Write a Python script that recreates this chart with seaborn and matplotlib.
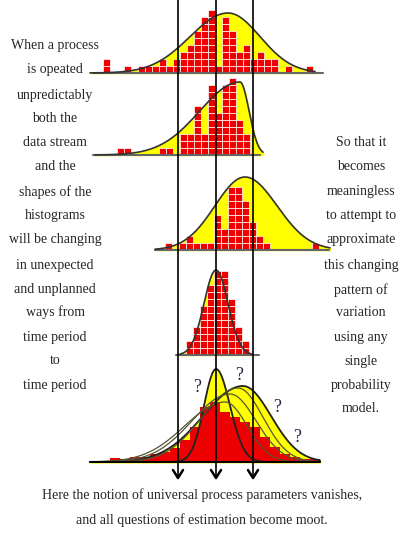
import numpy as np
import pandas as pd
import matplotlib.pyplot as plt
from matplotlib.patches import Rectangle
import seaborn as sns

sns.set_style("white")
plt.rcParams['font.family'] = ['Liberation Serif', 'DejaVu Serif']

CELL = 7
# stacked-square histograms: (left x, baseline y, counts per column)
counts1 = [2, 0, 0, 1, 0, 1, 1, 1, 2, 1, 2, 3, 4, 6, 8, 9, 1, 8, 6, 3, 4, 2, 3, 2, 2, 0, 1, 0, 0, 1]
counts2 = [0, 0, 1, 1, 0, 0, 0, 0, 1, 1, 0, 3, 3, 7, 3, 10, 6, 10, 11, 5, 3]
counts3 = [1, 0, 1, 2, 1, 1, 1, 5, 3, 9, 9, 7, 4, 2, 1, 0, 0, 0, 0, 0, 0, 1]
counts4 = [2, 4, 7, 10, 12, 12, 8, 4, 2]
hist_panels = [(103, 73, counts1), (103, 155, counts2), (165, 250, counts3), (186, 355, counts4)]

# bottom panel: red bars (left x, width, height in px)
bar_x = [110, 120, 130, 140, 150, 160, 170, 180, 190, 200, 210, 220, 230, 240, 250, 260, 270, 280, 290, 300, 310]
bar_h = [4, 3, 5, 5, 8, 10, 14, 22, 35, 55, 60, 50, 45, 40, 35, 25, 15, 8, 5, 3, 3]

# curves: (x0, x1, baseline, peak x, peak height, sd left, sd right)
curves = [(90, 315, 73, 228, 60, 38, 32),
          (95, 263, 155, 240, 73, 40, 9),
          (155, 330, 250, 245, 73, 30, 32),
          (180, 252, 355, 216, 85, 12, 12)]
bottom_curves = [(90, 320, 462, 216, 93, 12, 14, True),
                 (90, 320, 462, 243, 76, 40, 28, True),
                 (90, 320, 462, 230, 68, 38, 26, False),
                 (90, 320, 462, 238, 74, 36, 25, False),
                 (90, 320, 462, 225, 60, 40, 22, False)]

left_text = ["When a process", "is opeated", "unpredictably", "both the", "data stream",
             "and the", "shapes of the", "histograms", "will be changing", "in unexpected",
             "and unplanned", "ways from", "time period", "to", "time period"]
left_y = [45, 70, 95, 118, 143, 166, 192, 216, 240, 265, 290, 312, 337, 361, 385]
right_text = ["So that it", "becomes", "meaningless", "to attempt to", "approximate",
              "this changing", "pattern of", "variation", "using any", "single",
              "probability", "model."]
right_y = [143, 167, 192, 216, 240, 265, 290, 312, 337, 361, 385, 409]
bottom_text = ["Here the notion of universal process parameters vanishes,",
               "and all questions of estimation become moot."]
bottom_y = [495, 520]
q_pos = [(197, 388), (239, 376), (277, 407), (297, 438)]
vlines = [178, 216, 253]


def curve(x0, x1, base, mu, h, sl, sr):
    xs = np.linspace(x0, x1, 300)
    sd = np.where(xs < mu, sl, sr)
    return xs, base - h * np.exp(-0.5 * ((xs - mu) / sd) ** 2)


fig = plt.figure(figsize=(4.04, 5.35), dpi=100)
ax = fig.add_axes([0, 0, 1, 1])
ax.set_xlim(0, 404)
ax.set_ylim(535, 0)
ax.axis('off')

for (x0, x1, base, mu, h, sl, sr) in curves:
    xs, ys = curve(x0, x1, base, mu, h, sl, sr)
    ax.fill_between(xs, ys, base, color='#ffff00', zorder=1)
    sns.lineplot(x=xs, y=ys, color='#333333', lw=1.2, ax=ax, zorder=4)

for (lx, base, counts) in hist_panels:
    for i, c in enumerate(counts):
        for j in range(c):
            ax.add_patch(Rectangle((lx + i * CELL, base - (j + 1) * CELL), CELL, CELL,
                                   facecolor='#ee0000', edgecolor='white', lw=0.5, zorder=2))
    ax.plot([lx - 10, lx + len(counts) * CELL + 10], [base, base], color='#666666', lw=1.5, zorder=3)

# bottom panel
x0, x1, base = 90, 320, 462
xs, ys = curve(*bottom_curves[1][:7])
ax.fill_between(xs, ys, base, color='#ffff00', zorder=1)
xs, ys = curve(*bottom_curves[0][:7])
ax.fill_between(xs, ys, base, color='#ffff00', zorder=1)
bars = pd.DataFrame({'x': bar_x, 'h': bar_h})
for _, r in bars.iterrows():
    ax.add_patch(Rectangle((r.x, base - r.h), 10, r.h, facecolor='#ee0000', edgecolor='none', zorder=2))
for bc in bottom_curves:
    xs, ys = curve(*bc[:7])
    sns.lineplot(x=xs, y=ys, color='#222222' if bc[7] else '#555533', lw=1.3 if bc[7] else 0.9,
                 ax=ax, zorder=4)
ax.plot([x0, x1], [base, base], color='black', lw=1.5, zorder=5)

for vx in vlines:
    ax.plot([vx, vx], [0, 478], color='black', lw=1.2, zorder=6)
    ax.plot([vx - 5, vx, vx + 5], [470, 478, 470], color='black', lw=1.8, zorder=6)

for (qx, qy) in q_pos:
    ax.text(qx, qy, '?', fontsize=13, ha='center', va='center', color='#222244', zorder=7)

for t, y in zip(left_text, left_y):
    ax.text(55, y, t, fontsize=10, ha='center', va='center')
for t, y in zip(right_text, right_y):
    ax.text(361, y, t, fontsize=10, ha='center', va='center')
for t, y in zip(bottom_text, bottom_y):
    ax.text(202, y, t, fontsize=10, ha='center', va='center')

fig.savefig('out.png', dpi=100)
